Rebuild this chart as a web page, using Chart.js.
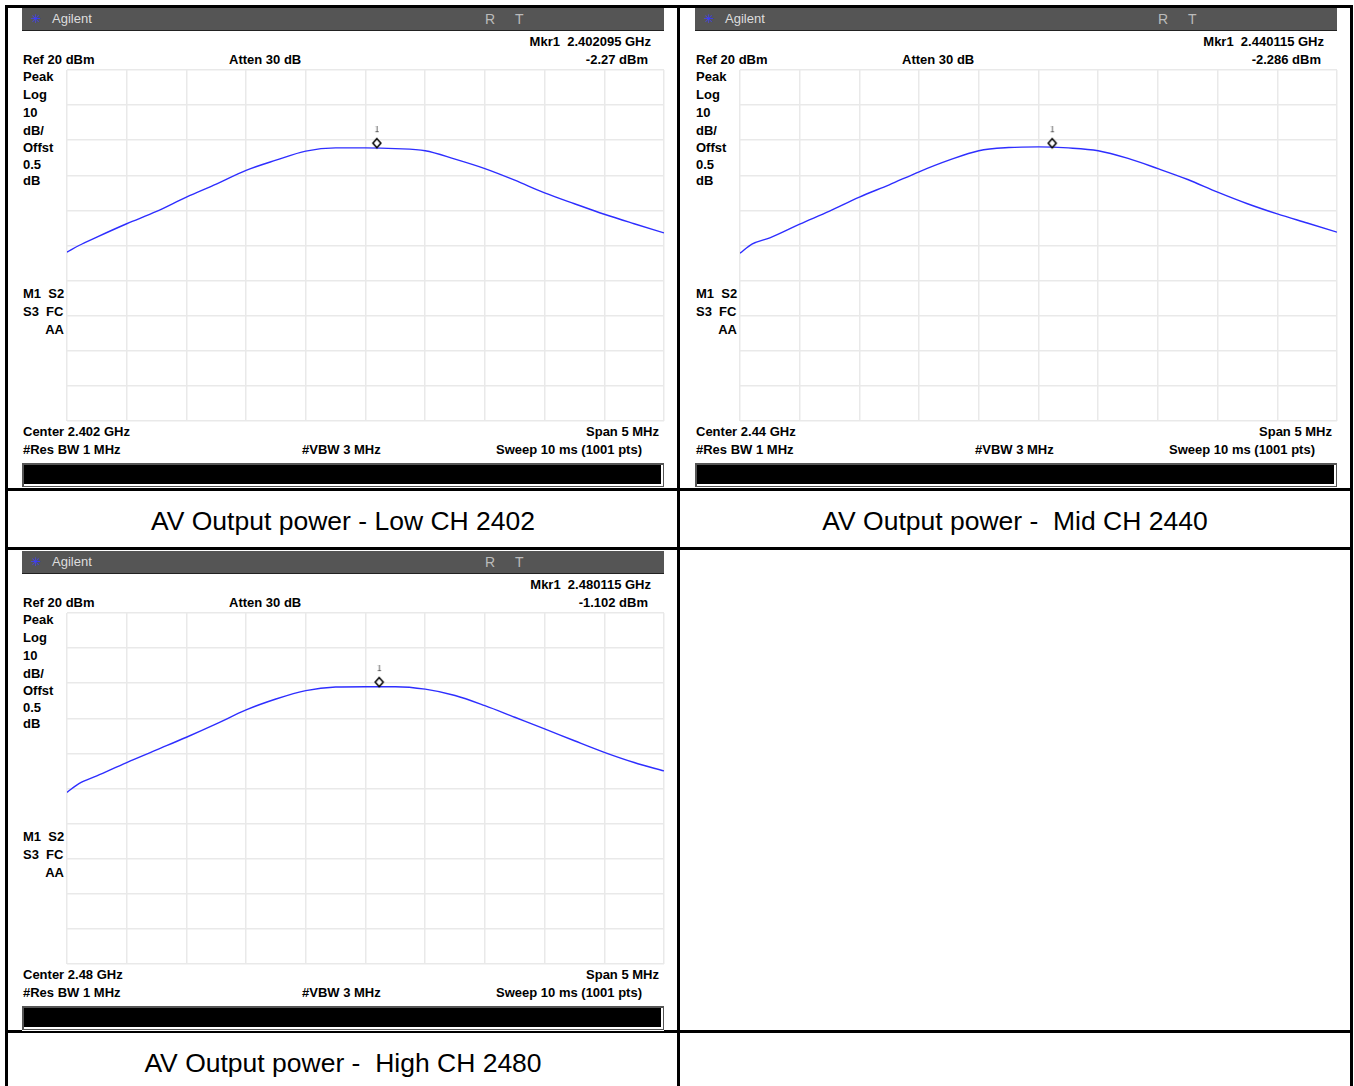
<!DOCTYPE html>
<html>
<head>
<meta charset="utf-8">
<script src="https://cdn.jsdelivr.net/npm/chart.js@4.4.1/dist/chart.umd.min.js"></script>
<style>
  body { margin: 0; background: #fff; width: 1354px; height: 1086px; overflow: hidden; position: relative; }
  .line { position: absolute; background: #000; }
  .panel { position: absolute; width: 642px; height: 480px; background: #fff; }
  .hdr { position: absolute; left: 0; top: 0; width: 642px; height: 22px; background: #555; border-bottom: 1px solid #222; }
  .t { position: absolute; font: bold 13px "Liberation Sans", Arial, sans-serif; color: #000; white-space: pre; line-height: 14px; }
  .h { position: absolute; font: 13px "Liberation Sans", Arial, sans-serif; color: #ddd; white-space: pre; line-height: 14px; }
  .bar { position: absolute; left: 0; top: 455px; width: 639px; height: 21px; background: #000; border: 2px solid #555; border-right-width: 1px; border-bottom-width: 1px; box-shadow: inset -2px -2px 0 #fff; }
  .cap { position: absolute; font: 26.5px "Liberation Sans", Arial, sans-serif; color: #000; white-space: pre; text-align: center; line-height: 30px; }
  canvas { position: absolute; }
</style>
</head>
<body>
<script>
// frequency offsets from centre (MHz), 0.5 MHz per division
var freqOffsets = [-2.5, -2.4, -2.25, -2.0, -1.75, -1.5, -1.25, -1.0, -0.75, -0.5, -0.25, 0,
                   0.25, 0.5, 0.75, 1.0, 1.25, 1.5, 1.75, 2.0, 2.25, 2.5];

// trace levels (dBm)
var lowCh  = [-31.9, -30.0, -27.6, -23.8, -20.3, -16.2, -12.5, -8.6, -5.7, -3.1, -2.2, -2.2,
              -2.4, -3.0, -5.4, -8.1, -11.4, -15.0, -18.1, -21.1, -23.8, -26.4];
var midCh  = [-32.2, -29.6, -27.8, -23.9, -20.2, -16.2, -12.7, -9.0, -5.7, -3.0, -2.1, -1.9,
              -2.2, -3.0, -5.2, -8.1, -11.2, -14.8, -18.1, -21.0, -23.6, -26.2];
var highCh = [-31.1, -28.6, -26.4, -22.6, -19.0, -15.4, -11.6, -7.6, -4.5, -2.1, -1.1, -1.0,
              -1.0, -1.7, -3.5, -6.4, -9.7, -13.0, -16.4, -19.7, -22.6, -25.0];

var centerMHz = [2402, 2440, 2480];
var markerMHz = [2402.095, 2440.115, 2480.115];
var markerDbm = [-2.27, -2.286, -1.102];
var markerFreqText = ["2.402095 GHz", "2.440115 GHz", "2.480115 GHz"];
var markerLevelText = ["-2.27 dBm", "-2.286 dBm", "-1.102 dBm"];
var centerText = ["Center 2.402 GHz", "Center 2.44 GHz", "Center 2.48 GHz"];
var captions = ["AV Output power - Low CH 2402", "AV Output power -  Mid CH 2440", "AV Output power -  High CH 2480"];

var refLevel = 20;
var dbPerDiv = 10;
var spanMHz = 5;

// table lines
function addLine(x, y, w, h) {
    var d = document.createElement('div');
    d.className = 'line';
    d.style.left = x + 'px'; d.style.top = y + 'px';
    d.style.width = w + 'px'; d.style.height = h + 'px';
    document.body.appendChild(d);
}
addLine(5, 5, 1348, 3);
addLine(5, 488, 1348, 3);
addLine(5, 547, 1348, 3);
addLine(5, 1030, 1348, 3);
addLine(5, 5, 3, 1081);
addLine(677, 5, 3, 1081);
addLine(1350, 5, 3, 1081);

function addText(parent, cls, txt, x, y, right) {
    var s = document.createElement('div');
    s.className = cls;
    s.textContent = txt;
    if (right) s.style.right = x + 'px'; else s.style.left = x + 'px';
    s.style.top = y + 'px';
    parent.appendChild(s);
    return s;
}

function markerImage() {
    var c = document.createElement('canvas');
    c.width = 20; c.height = 44;
    var g = c.getContext('2d');
    g.strokeStyle = '#000'; g.fillStyle = '#fff'; g.lineWidth = 1.5;
    g.beginPath();
    g.moveTo(10, 12.5); g.lineTo(14, 17); g.lineTo(10, 21.5); g.lineTo(6, 17); g.closePath();
    g.fill(); g.stroke();
    g.fillStyle = '#444';
    g.font = '8px "DejaVu Sans", sans-serif';
    g.textAlign = 'center'; g.textBaseline = 'middle';
    g.fillText('1', 10, 4);
    return c;
}

function makePanel(i, left, top, levels) {
    var p = document.createElement('div');
    p.className = 'panel';
    p.style.left = left + 'px'; p.style.top = top + 'px';
    document.body.appendChild(p);

    var hdr = document.createElement('div');
    hdr.className = 'hdr';
    p.appendChild(hdr);
    var logo = addText(hdr, 'h', '\u2733', 9, 4);
    logo.style.color = '#3a3aff'; logo.style.fontSize = '12px';
    addText(hdr, 'h', 'Agilent', 30, 4);
    var r = addText(hdr, 'h', 'R', 463, 4); r.style.color = '#bbb'; r.style.fontSize = '14px';
    var tt = addText(hdr, 'h', 'T', 493, 4); tt.style.color = '#bbb'; tt.style.fontSize = '14px';

    addText(p, 't', 'Mkr1  ' + markerFreqText[i], 13, 27, true);
    addText(p, 't', 'Ref ' + refLevel + ' dBm', 1, 45);
    addText(p, 't', 'Atten 30 dB', 207, 45);
    addText(p, 't', markerLevelText[i], 16, 45, true);
    var side = ['Peak', 'Log', '10', 'dB/', 'Offst', '0.5', 'dB'];
    var sideY = [62, 80, 98, 116, 133, 150, 166];
    for (var k = 0; k < side.length; k++) addText(p, 't', side[k], 1, sideY[k]);
    addText(p, 't', 'M1  S2', 1, 279);
    addText(p, 't', 'S3  FC', 1, 297);
    addText(p, 't', 'AA', 600, 315, true);
    addText(p, 't', centerText[i], 1, 417);
    addText(p, 't', 'Span ' + spanMHz + ' MHz', 5, 417, true);
    addText(p, 't', '#Res BW 1 MHz', 1, 435);
    addText(p, 't', '#VBW 3 MHz', 280, 435);
    addText(p, 't', 'Sweep 10 ms (1001 pts)', 22, 435, true);

    var bar = document.createElement('div');
    bar.className = 'bar';
    p.appendChild(bar);

    var cv = document.createElement('canvas');
    cv.width = 599; cv.height = 353;
    cv.style.left = '44px'; cv.style.top = '61px';
    p.appendChild(cv);

    var trace = [];
    for (var j = 0; j < freqOffsets.length; j++) {
        trace.push({ x: centerMHz[i] + freqOffsets[j], y: levels[j] });
    }

    var gridStyle = { color: '#e9e9e9', lineWidth: 1.5, drawTicks: false };
    new Chart(cv, {
        type: 'line',
        data: {
            datasets: [{
                data: [{ x: markerMHz[i], y: markerDbm[i] }],
                showLine: false,
                pointStyle: markerImage(),
                pointRadius: 10,
                order: 1
            }, {
                data: trace,
                borderColor: '#2e2eff',
                borderWidth: 1.4,
                pointRadius: 0,
                cubicInterpolationMode: 'monotone',
                fill: false,
                order: 2
            }]
        },
        options: {
            responsive: false,
            animation: false,
            events: [],
            layout: { padding: 1, autoPadding: false },
            plugins: { legend: { display: false }, tooltip: { enabled: false } },
            scales: {
                x: {
                    type: 'linear',
                    min: centerMHz[i] - spanMHz / 2,
                    max: centerMHz[i] + spanMHz / 2,
                    ticks: { display: false, stepSize: spanMHz / 10 },
                    grid: gridStyle,
                    border: { display: false }
                },
                y: {
                    min: refLevel - 10 * dbPerDiv,
                    max: refLevel,
                    ticks: { display: false, stepSize: dbPerDiv },
                    grid: gridStyle,
                    border: { display: false }
                }
            }
        }
    });
}

makePanel(0, 22, 8, lowCh);
makePanel(1, 695, 8, midCh);
makePanel(2, 22, 551, highCh);

var capPos = [[8, 506], [680, 506], [8, 1048]];
for (var c = 0; c < captions.length; c++) {
    var cap = addText(document.body, 'cap', captions[c], capPos[c][0], capPos[c][1]);
    cap.style.width = '670px';
}
</script>
</body>
</html>
